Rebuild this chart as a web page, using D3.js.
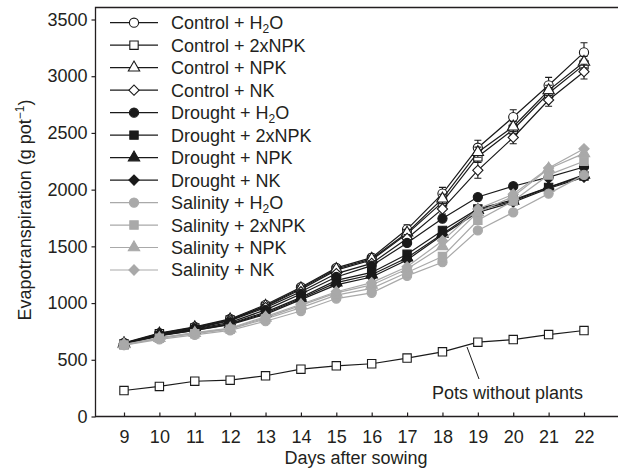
<!DOCTYPE html>
<html lang="en">
<head>
<meta charset="UTF-8">
<title>Evapotranspiration</title>
<style>
body { margin: 0; background: #fff; }
text { font-family: "Liberation Sans", Arial, sans-serif; fill: #231f20; }
.axis path { display: none; }
.axis line { stroke: #231f20; stroke-width: 1.2; }
.axis text { font-size: 18px; }
</style>
</head>
<body>
<div class="g-chart-container"></div>
<script src="https://d3js.org/d3.v7.min.js"></script>
<script>
var days = [9, 10, 11, 12, 13, 14, 15, 16, 17, 18, 19, 20, 21, 22];
var yTicks = [0, 500, 1000, 1500, 2000, 2500, 3000, 3500];

// control
var ctrlH2O   = [650, 735, 790, 860, 985, 1140, 1310, 1400, 1650, 1965, 2370, 2640, 2920, 3210];
var ctrl2xNPK = [640, 730, 780, 850, 970, 1120, 1290, 1380, 1610, 1890, 2290, 2530, 2850, 3100];
var ctrlNPK   = [645, 730, 785, 855, 975, 1130, 1300, 1390, 1620, 1920, 2330, 2555, 2875, 3125];
var ctrlNK    = [640, 725, 775, 845, 960, 1100, 1260, 1350, 1570, 1830, 2170, 2460, 2790, 3040];
var ctrlH2OErr   = [0, 0, 0, 0, 15, 20, 25, 30, 40, 55, 65, 65, 70, 85];
var ctrl2xNPKErr = [0, 0, 0, 0, 10, 15, 20, 25, 30, 40, 50, 45, 50, 50];
var ctrlNPKErr   = [0, 0, 0, 0, 10, 15, 20, 25, 30, 40, 45, 45, 45, 50];
var ctrlNKErr    = [0, 0, 0, 0, 10, 15, 20, 25, 35, 45, 70, 55, 55, 65];

// drought
var drH2O   = [640, 720, 770, 830, 940, 1080, 1230, 1330, 1530, 1745, 1935, 2030, 2110, 2200];
var dr2xNPK = [635, 715, 765, 820, 920, 1050, 1200, 1270, 1430, 1640, 1830, 1910, 2020, 2120];
var drNPK   = [640, 715, 760, 815, 910, 1040, 1180, 1250, 1400, 1610, 1820, 1900, 2020, 2130];
var drNK    = [635, 710, 760, 810, 900, 1030, 1160, 1230, 1380, 1600, 1800, 1890, 2010, 2110];

// salinity
var salH2O   = [630, 680, 720, 760, 840, 930, 1040, 1090, 1240, 1360, 1640, 1800, 1965, 2130];
var sal2xNPK = [630, 690, 730, 770, 860, 960, 1070, 1130, 1270, 1410, 1730, 1900, 2130, 2250];
var salNPK   = [635, 690, 735, 775, 870, 980, 1090, 1160, 1300, 1500, 1800, 1940, 2185, 2320];
var salNK    = [635, 695, 740, 780, 880, 990, 1100, 1180, 1320, 1550, 1830, 1960, 2190, 2360];

var potsNoPlants = [229, 265, 311, 320, 359, 417, 447, 465, 515, 570, 655, 678, 722, 758];

var black = "#1a1a1a", grey = "#a9a9a9";

var series = [
    {label: "Control + H2O",     values: ctrlH2O,   err: ctrlH2OErr,   shape: "circle",   fill: "#fff", color: black},
    {label: "Control + 2xNPK",   values: ctrl2xNPK, err: ctrl2xNPKErr, shape: "square",   fill: "#fff", color: black},
    {label: "Control + NPK",     values: ctrlNPK,   err: ctrlNPKErr,   shape: "triangle", fill: "#fff", color: black},
    {label: "Control + NK",      values: ctrlNK,    err: ctrlNKErr,    shape: "diamond",  fill: "#fff", color: black},
    {label: "Drought + H2O",     values: drH2O,     shape: "circle",   fill: black, color: black},
    {label: "Drought + 2xNPK",   values: dr2xNPK,   shape: "square",   fill: black, color: black},
    {label: "Drought + NPK",     values: drNPK,     shape: "triangle", fill: black, color: black},
    {label: "Drought + NK",      values: drNK,      shape: "diamond",  fill: black, color: black},
    {label: "Salinity + H2O",    values: salH2O,    shape: "circle",   fill: grey, color: grey},
    {label: "Salinity + 2xNPK",  values: sal2xNPK,  shape: "square",   fill: grey, color: grey},
    {label: "Salinity + NPK",    values: salNPK,    shape: "triangle", fill: grey, color: grey},
    {label: "Salinity + NK",     values: salNK,     shape: "diamond",  fill: grey, color: grey}
];

var W = 618, H = 472;
var plot = {left: 95.5, top: 7.5, bottom: 416.5};

var svg = d3.select(".g-chart-container").append("svg")
    .attr("width", W)
    .attr("height", H);

var xscale = d3.scaleLinear()
    .domain([9, 22])
    .range([124, 584]);

var yscale = d3.scaleLinear()
    .domain([0, 3500])
    .range([plot.bottom, 19.5]);

var xaxis = d3.axisBottom(xscale)
    .tickValues(days)
    .tickSizeInner(-4)
    .tickSizeOuter(0)
    .tickPadding(14)
    .tickFormat(d3.format("d"));

var yaxis = d3.axisLeft(yscale)
    .tickValues(yTicks)
    .tickSizeInner(4)
    .tickSizeOuter(0)
    .tickPadding(4)
    .tickFormat(d3.format("d"));

svg.append("g")
    .attr("class", "axis")
    .attr("transform", "translate(0," + plot.bottom + ")")
    .call(xaxis);

svg.append("g")
    .attr("class", "axis")
    .attr("transform", "translate(" + plot.left + ",0)")
    .call(yaxis);

// frame: left, top, bottom (runs off the right edge)
svg.append("path")
    .attr("d", "M" + W + "," + plot.top + "H" + plot.left + "V" + plot.bottom + "H" + W)
    .attr("fill", "none")
    .attr("stroke", "#231f20")
    .attr("stroke-width", 1.3);

function symbolPath(shape) {
    if (shape == "circle") return d3.symbol(d3.symbolCircle, 66)();
    if (shape == "square") return d3.symbol(d3.symbolSquare, 70)();
    if (shape == "triangle") return d3.symbol(d3.symbolTriangle, 56)();
    return d3.symbol(d3.symbolSquare, 52)(); // diamond = rotated square
}

function drawMarker(g, shape, x, y, fill, color) {
    g.append("path")
        .attr("d", symbolPath(shape))
        .attr("transform", "translate(" + x + "," + y + ")" + (shape == "diamond" ? " rotate(45)" : ""))
        .attr("fill", fill)
        .attr("stroke", color)
        .attr("stroke-width", 1.1);
}

function writeLabel(t, label) {
    var i = label.indexOf("H2O");
    if (i < 0) { t.text(label); return; }
    t.append("tspan").text(label.slice(0, i + 1));
    t.append("tspan").attr("font-size", "12px").attr("dy", 4).text("2");
    t.append("tspan").attr("dy", -4).text("O");
}

var lineGenerator = d3.line()
    .x(function(d, i) { return xscale(days[i]); })
    .y(function(d) { return yscale(d); });

// pots without plants
svg.append("path")
    .datum(potsNoPlants)
    .attr("d", lineGenerator)
    .attr("fill", "none")
    .attr("stroke", black)
    .attr("stroke-width", 1.2);

var potsG = svg.append("g");
potsNoPlants.forEach(function(v, i) {
    drawMarker(potsG, "square", xscale(days[i]), yscale(v), "#fff", black);
});

svg.append("line")
    .attr("x1", 467).attr("y1", 347)
    .attr("x2", 479).attr("y2", 379)
    .attr("stroke", black)
    .attr("stroke-width", 1);

svg.append("text")
    .attr("x", 432)
    .attr("y", 399)
    .attr("font-size", "18px")
    .text("Pots without plants");

// treatment series
series.forEach(function(s) {
    var g = svg.append("g");

    g.append("path")
        .datum(s.values)
        .attr("d", lineGenerator)
        .attr("fill", "none")
        .attr("stroke", s.color)
        .attr("stroke-width", 1.2);

    if (s.err) {
        s.values.forEach(function(v, i) {
            if (!s.err[i]) return;
            var x = xscale(days[i]), y0 = yscale(v - s.err[i]), y1 = yscale(v + s.err[i]);
            g.append("path")
                .attr("d", "M" + x + "," + y0 + "V" + y1 + "M" + (x - 3.5) + "," + y0 + "h7M" + (x - 3.5) + "," + y1 + "h7")
                .attr("stroke", s.color)
                .attr("stroke-width", 1.1)
                .attr("fill", "none");
        });
    }

    s.values.forEach(function(v, i) {
        drawMarker(g, s.shape, xscale(days[i]), yscale(v), s.fill, s.color);
    });
});

// legend
var legendY = d3.scalePoint()
    .domain(series.map(function(s) { return s.label; }))
    .range([22.7, 270]);

var legend = svg.append("g");
series.forEach(function(s) {
    var y = legendY(s.label);
    legend.append("line")
        .attr("x1", 110).attr("x2", 158)
        .attr("y1", y).attr("y2", y)
        .attr("stroke", s.color)
        .attr("stroke-width", 1.2);
    drawMarker(legend, s.shape, 134, y, s.fill, s.color);
    var t = legend.append("text")
        .attr("x", 171)
        .attr("y", y)
        .attr("dy", "0.36em")
        .attr("font-size", "18px");
    writeLabel(t, s.label);
});

// axis titles
svg.append("text")
    .attr("x", 356)
    .attr("y", 464)
    .attr("text-anchor", "middle")
    .attr("font-size", "18px")
    .text("Days after sowing");

var ylab = svg.append("text")
    .attr("transform", "translate(31,210) rotate(-90)")
    .attr("text-anchor", "middle")
    .attr("font-size", "18px");
ylab.append("tspan").text("Evapotranspiration (g pot");
ylab.append("tspan").attr("font-size", "12px").attr("dy", -7).text("\u22121");
ylab.append("tspan").attr("dy", 7).text(")");
</script>
</body>
</html>
